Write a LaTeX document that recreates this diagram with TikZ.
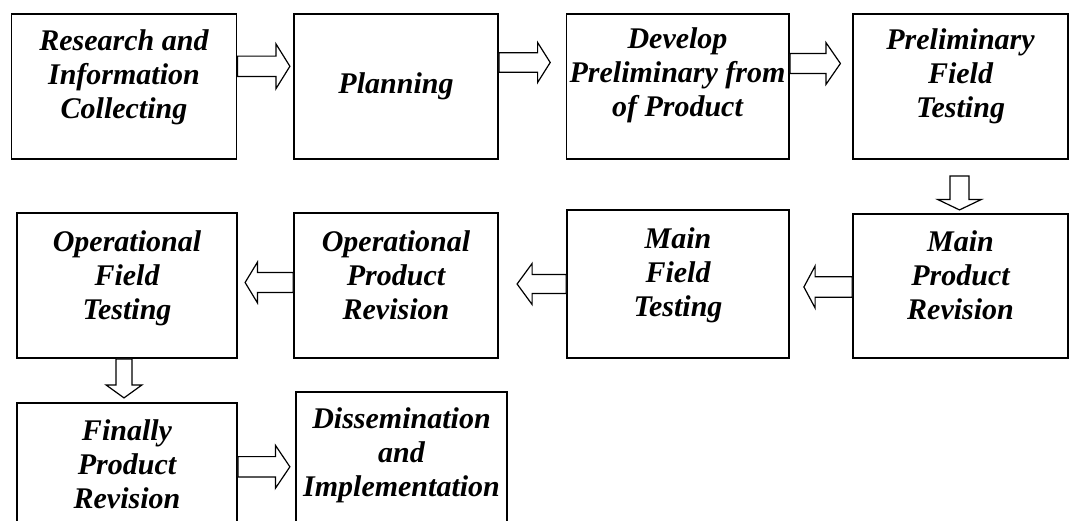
\documentclass[tikz,border=0pt]{standalone}
\usepackage{fontspec}
\setmainfont{Liberation Serif}
\usetikzlibrary{calc}
\tikzset{
  stepbox/.style={draw, line width=1.8pt, inner sep=0pt, minimum width=#1},
  lbl/.style={inner sep=0pt, align=center,
    font=\fontsize{30}{34}\selectfont\bfseries\itshape,
    execute at begin node=\strut, execute at end node=\strut},
  blockarrow/.style={draw, fill=white, line width=1.2pt, line join=miter}
}
% horizontal block arrow: start, direction (1 right / -1 left), length, head length, shaft half, head half
\newcommand\myHarrow[6]{%
  \draw[blockarrow] ($(#1)+(0,-#5)$) -- ++({#2*(#3-#4)},0) -- ++(0,{-(#6-#5)})
    -- ++({#2*#4},#6) -- ++({-#2*#4},#6) -- ++(0,{-(#6-#5)})
    -- ++({-#2*(#3-#4)},0) -- cycle;}
% downward block arrow: start, length, head length, shaft half, head half
\newcommand\myVarrow[5]{%
  \draw[blockarrow] ($(#1)+(-#4,0)$) -- ++(0,{#2-#3}) -- ++({-(#5-#4)},0)
    -- ++(#5,#3) -- ++(#5,-#3) -- ++({-(#5-#4)},0)
    -- ++(0,{-(#2-#3)}) -- cycle;}
\begin{document}
\begin{tikzpicture}[x=1pt,y=-1pt]
\useasboundingbox (0,0) rectangle (1071,520);
\clip (0,0) rectangle (1071,520);
% boxes
\node[stepbox=225pt, minimum height=145pt] (b1) at (124,86.5) {};
\node[stepbox=204pt, minimum height=145pt] (b2) at (396,86.5) {};
\node[stepbox=222.5pt, minimum height=145pt] (b3) at (677.75,86.5) {};
\node[stepbox=215pt, minimum height=145pt] (b4) at (960.5,86.5) {};
\node[stepbox=215pt, minimum height=144pt] (b5) at (960.5,286) {};
\node[stepbox=222pt, minimum height=148pt] (b6) at (678,284) {};
\node[stepbox=204pt, minimum height=145pt] (b7) at (396,285.5) {};
\node[stepbox=220pt, minimum height=145pt] (b8) at (127,285.5) {};
\node[stepbox=220pt, minimum height=145pt] (b9) at (127,475.5) {};
\node[stepbox=211pt, minimum height=145pt] (b10) at (401.5,464.5) {};
% texts
\node[lbl] (t1) at (124,79.4) {Research and\\Information\\Collecting};
\node[lbl] (t2) at (396,86.3) {Planning};
\node[lbl] (t3) at (677.5,77.2) {Develop\\Preliminary from\\of Product};
\node[lbl] (t4) at (960.5,77.7) {Preliminary\\Field\\Testing};
\node[lbl] (t5) at (960.5,280.2) {Main\\Product\\Revision};
\node[lbl] (t6) at (678,277.2) {Main\\Field\\Testing};
\node[lbl] (t7) at (396,280.2) {Operational\\Product\\Revision};
\node[lbl] (t8) at (127,280.2) {Operational\\Field\\Testing};
\node[lbl] (t9) at (127,469.2) {Finally\\Product\\Revision};
\node[lbl] (t10) at (401.5,457.2) {Dissemination\\and\\Implementation};
% connector start points
\coordinate (a1) at ($(b1.east)+(0,-20.2)$);
\coordinate (a2) at ($(b2.east)+(0,-24)$);
\coordinate (a3) at ($(b3.east)+(0,-23)$);
\coordinate (a4) at ($(b4.south)+(-1,16)$);
\coordinate (a5) at ($(b5.west)+(0,1)$);
\coordinate (a6) at ($(b6.west)+(0,0)$);
\coordinate (a7) at ($(b7.west)+(0,-3)$);
\coordinate (a8) at ($(b8.south)+(-3,0)$);
\coordinate (a9) at ($(b9.east)+(0,-8.7)$);
% block arrows
\myHarrow{a1}{1}{52.5}{14}{10.2}{22.5}
\myHarrow{a2}{1}{51.3}{12.6}{9.7}{20}
\myHarrow{a3}{1}{50.5}{14.5}{10}{21}
\myVarrow{a4}{34}{10.5}{9.5}{22}
\myHarrow{a5}{-1}{48.2}{11.2}{10.3}{21}
\myHarrow{a6}{-1}{49}{15}{9.5}{20.5}
\myHarrow{a7}{-1}{48}{12.3}{10}{20.3}
\myVarrow{a8}{39}{13}{8}{18}
\myHarrow{a9}{1}{52}{14.5}{10.2}{21.5}
\end{tikzpicture}
\end{document}
